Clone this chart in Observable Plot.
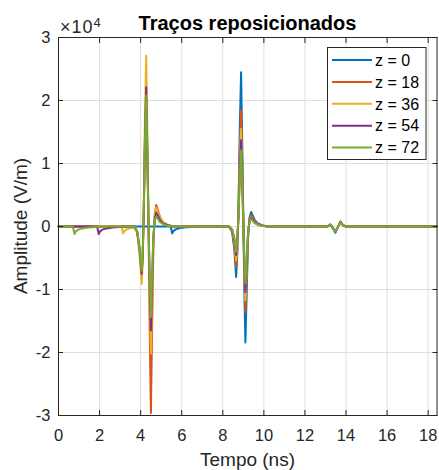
<!DOCTYPE html>
<html><head><meta charset="utf-8">
<script src="https://cdn.jsdelivr.net/npm/d3@7"></script>
<script src="https://cdn.jsdelivr.net/npm/@observablehq/plot@0.6"></script>
<style>body{margin:0;background:#fff}</style>
</head><body><div id="chart"></div>
<script>
// ---- data (amplitudes in units of 10^4 V/m, time in ns) ----
const seriesNames = ["z = 0", "z = 18", "z = 36", "z = 54", "z = 72"];
const seriesColors = ["#0072BD", "#D95319", "#EDB120", "#7E2F8E", "#77AC30"];
const xTicks = [0, 2, 4, 6, 8, 10, 12, 14, 16, 18];
const yTicks = [-3, -2, -1, 0, 1, 2, 3];
const tDomain = [0, 18.43];

// precursor dips
const preT_z0  = [5.46, 5.54, 5.60, 5.71, 5.91, 6.21, 6.66, 7.20];
const preV_z0  = [0, -0.11, -0.07, -0.045, -0.025, -0.012, -0.004, 0];
const preT_z36 = [3.07, 3.15, 3.21, 3.32, 3.52];
const preV_z36 = [0, -0.11, -0.07, -0.045, -0.025];
const preT_z54 = [1.88, 1.96, 2.02, 2.13, 2.33, 2.63, 3.08, 3.50];
const preV_z54 = [0, -0.12, -0.08, -0.05, -0.03, -0.015, -0.005, 0];
const preT_z72 = [0.70, 0.78, 0.84, 0.95, 1.15, 1.45, 1.90, 2.40];
const preV_z72 = [0, -0.12, -0.08, -0.05, -0.03, -0.015, -0.005, 0];

// first pulse
const pulse1T = [3.68, 3.83, 3.94, 4.05, 4.10, 4.15, 4.21, 4.27, 4.32, 4.38, 4.44, 4.50, 4.55, 4.62, 4.69, 4.76, 4.84, 4.94, 5.09, 5.29, 5.60];
const pulse1_z18 = [0, -0.08, -0.36, -0.80, -0.48, 0.20, 1.27, 1.95, 1.17, 0.10, -1.63, -2.96, -1.78, -0.30, 0.20, 0.34, 0.26, 0.15, 0.07, 0.03, 0];
const pulse1_z36 = [-0.02, -0.09, -0.41, -0.91, -0.55, 0.27, 1.76, 2.71, 1.63, 0.14, -1.11, -2.02, -1.21, -0.20, 0.18, 0.30, 0.23, 0.14, 0.07, 0.02, 0];
const pulse1_z54 = [0, -0.08, -0.34, -0.75, -0.45, 0.22, 1.44, 2.21, 1.33, 0.11, -0.91, -1.65, -0.99, -0.17, 0.13, 0.22, 0.17, 0.10, 0.05, 0.02, 0];
const pulse1_z72 = [0, -0.07, -0.32, -0.70, -0.42, 0.21, 1.35, 2.08, 1.25, 0.10, -0.79, -1.44, -0.86, -0.14, 0.10, 0.16, 0.12, 0.07, 0.04, 0.01, 0];

// second pulse
const pulse2T = [8.30, 8.45, 8.56, 8.65, 8.70, 8.76, 8.83, 8.89, 8.94, 9.00, 9.05, 9.10, 9.16, 9.23, 9.30, 9.38, 9.46, 9.56, 9.71, 9.91, 10.20];
const pulse2_z0  = [0, -0.08, -0.36, -0.80, -0.48, 0.25, 1.59, 2.45, 1.47, 0.12, -1.01, -1.84, -1.10, -0.18, 0.14, 0.23, 0.17, 0.10, 0.05, 0.02, 0];
const pulse2_z18 = [0, -0.07, -0.29, -0.65, -0.39, 0.18, 1.20, 1.84, 1.10, 0.09, -0.75, -1.36, -0.82, -0.14, 0.11, 0.18, 0.14, 0.08, 0.04, 0.01, 0];
const pulse2_z36 = [0, -0.05, -0.24, -0.54, -0.32, 0.16, 1.01, 1.55, 0.93, 0.08, -0.64, -1.17, -0.70, -0.12, 0.09, 0.15, 0.11, 0.07, 0.03, 0.01, 0];
const pulse2_z54 = [0, -0.05, -0.20, -0.45, -0.27, 0.14, 0.89, 1.37, 0.82, 0.07, -0.57, -1.04, -0.62, -0.10, 0.08, 0.14, 0.11, 0.06, 0.03, 0.01, 0];
const pulse2_z72 = [0, -0.04, -0.18, -0.40, -0.24, 0.12, 0.79, 1.21, 0.73, 0.06, -0.50, -0.90, -0.54, -0.09, 0.07, 0.12, 0.09, 0.05, 0.03, 0.01, 0];

// third (small) pulse
const pulse3T = [13.10, 13.24, 13.36, 13.48, 13.60, 13.73, 13.85, 14.00];
const pulse3_z0  = [0, 0.03, -0.03, -0.10, -0.01, 0.07, 0.02, 0];
const pulse3_z18 = [0, 0.03, -0.02, -0.08, -0.01, 0.07, 0.02, 0];
const pulse3_z36 = [0, 0.03, -0.02, -0.08, -0.01, 0.07, 0.02, 0];
const pulse3_z54 = [0, 0.03, -0.02, -0.08, -0.01, 0.08, 0.02, 0];
const pulse3_z72 = [0, 0.03, -0.02, -0.08, -0.01, 0.07, 0.02, 0];

const segments = {
  "z = 0":  [[preT_z0, preV_z0], [pulse2T, pulse2_z0], [pulse3T, pulse3_z0]],
  "z = 18": [[pulse1T, pulse1_z18], [pulse2T, pulse2_z18], [pulse3T, pulse3_z18]],
  "z = 36": [[preT_z36, preV_z36], [pulse1T, pulse1_z36], [pulse2T, pulse2_z36], [pulse3T, pulse3_z36]],
  "z = 54": [[preT_z54, preV_z54], [pulse1T, pulse1_z54], [pulse2T, pulse2_z54], [pulse3T, pulse3_z54]],
  "z = 72": [[preT_z72, preV_z72], [pulse1T, pulse1_z72], [pulse2T, pulse2_z72], [pulse3T, pulse3_z72]]
};

const rows = [];
for (const name of seriesNames) {
  const pts = [{t: tDomain[0], v: 0}, {t: tDomain[1], v: 0}];
  for (const [ts, vs] of segments[name]) ts.forEach((t, i) => pts.push({t, v: vs[i]}));
  pts.sort((a, b) => a.t - b.t);
  pts.forEach(p => rows.push({...p, z: name}));
}

const ink = "#262626";
const font = "'Liberation Sans', Arial, Helvetica, sans-serif";

const chart = Plot.plot({
  width: 439, height: 470,
  marginLeft: 58, marginRight: 2.5, marginTop: 37, marginBottom: 55,
  style: {fontFamily: font, fontSize: "16.5px", color: ink, background: "#fff"},
  x: {domain: tDomain},
  y: {domain: [-3, 3]},
  color: {domain: seriesNames, range: seriesColors},
  marks: [
    Plot.gridX(xTicks, {stroke: "#dfdfdf", strokeOpacity: 1}),
    Plot.gridY(yTicks, {stroke: "#dfdfdf", strokeOpacity: 1}),
    Plot.line(rows, {x: "t", y: "v", z: "z", stroke: "z", strokeWidth: 2, strokeLinejoin: "round"}),
    Plot.frame({stroke: ink, strokeWidth: 1}),
    Plot.axisX(xTicks, {tickSize: 0, tickPadding: 14, tickFormat: d => String(d), label: null, fill: ink}),
    Plot.axisX(xTicks, {anchor: "bottom", tickSize: 5, dy: -5, tickFormat: () => "", label: null, stroke: ink}),
    Plot.axisX(xTicks, {anchor: "top", tickSize: 5, dy: 5, tickFormat: () => "", label: null, stroke: ink}),
    Plot.axisY(yTicks, {tickSize: 0, tickPadding: 8, tickFormat: d => String(d), label: null, fill: ink}),
    Plot.axisY(yTicks, {anchor: "left", tickSize: 5, dx: 5, tickFormat: () => "", label: null, stroke: ink}),
    Plot.axisY(yTicks, {anchor: "right", tickSize: 5, dx: -5, tickFormat: () => "", label: null, stroke: ink})
  ]
});

const svg = d3.select(chart);
// title
svg.append("text").attr("x", 247.5).attr("y", 30).attr("text-anchor", "middle")
  .attr("font-family", font).attr("font-size", 20).attr("font-weight", "bold").attr("fill", "#000")
  .text("Traços reposicionados");
// exponent
const ex = svg.append("text").attr("x", 60).attr("y", 32.5).attr("text-anchor", "start")
  .attr("font-family", font).attr("font-size", 18).attr("letter-spacing", "1px").attr("fill", ink);
ex.append("tspan").text("×10");
ex.append("tspan").attr("dy", -6).attr("font-size", 13).attr("letter-spacing", "0px").text("4");
// axis labels
svg.append("text").attr("x", 247.5).attr("y", 466).attr("text-anchor", "middle")
  .attr("font-family", font).attr("font-size", 19).attr("fill", ink).text("Tempo (ns)");
svg.append("text").attr("transform", "translate(27,226) rotate(-90)").attr("text-anchor", "middle")
  .attr("font-family", font).attr("font-size", 19).attr("fill", ink).text("Amplitude (V/m)");
// legend
const lg = svg.append("g");
lg.append("rect").attr("x", 327.5).attr("y", 47.5).attr("width", 98.5).attr("height", 112)
  .attr("fill", "#fff").attr("stroke", ink).attr("stroke-width", 1);
seriesNames.forEach((name, i) => {
  const y = 60 + i * 21.9;
  lg.append("line").attr("x1", 332).attr("x2", 372).attr("y1", y).attr("y2", y)
    .attr("stroke", seriesColors[i]).attr("stroke-width", 2);
  lg.append("text").attr("x", 375).attr("y", y).attr("dy", "0.36em").attr("text-anchor", "start")
    .attr("font-family", font).attr("font-size", 16).attr("fill", "#000").text(name);
});

document.getElementById("chart").appendChild(chart);
</script>
</body></html>
